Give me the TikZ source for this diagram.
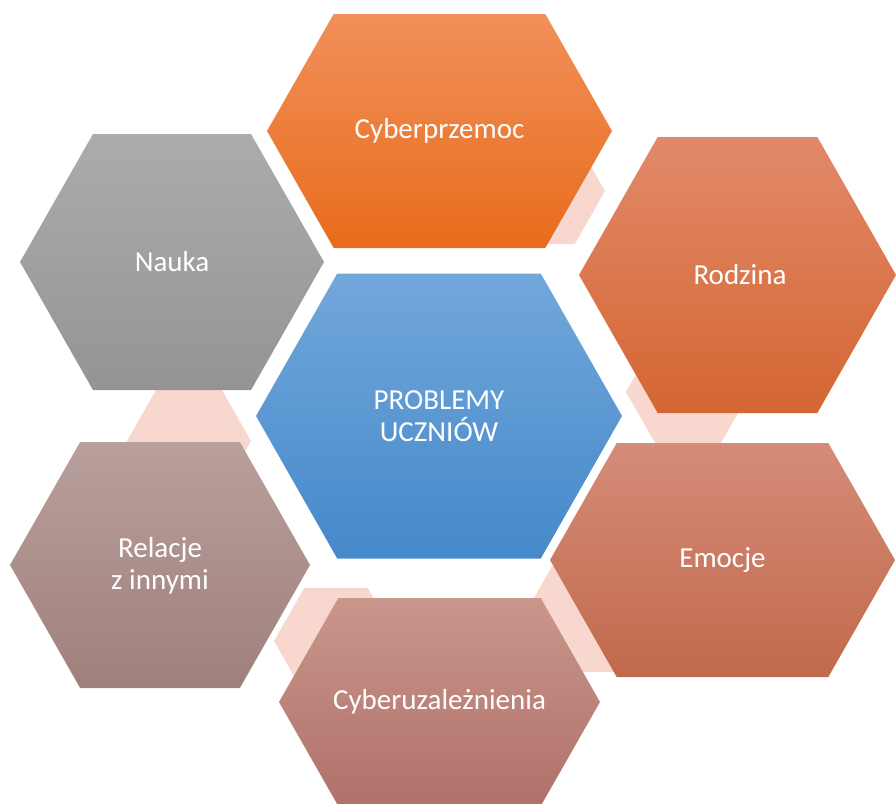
\documentclass[tikz,border=0pt]{standalone}
\usepackage{fontspec}
\setmainfont{Carlito}
\definecolor{linkpink}{HTML}{F8D8CE}
\definecolor{blueT}{HTML}{72A7DB}\definecolor{blueB}{HTML}{4589CA}
\definecolor{cybT}{HTML}{F1905A}\definecolor{cybB}{HTML}{E86C1C}
\definecolor{rodT}{HTML}{E2896A}\definecolor{rodB}{HTML}{D46632}
\definecolor{emoT}{HTML}{D58C79}\definecolor{emoB}{HTML}{C1694B}
\definecolor{uzaT}{HTML}{C9968C}\definecolor{uzaB}{HTML}{B0716A}
\definecolor{relT}{HTML}{B9A09C}\definecolor{relB}{HTML}{9F7F7B}
\definecolor{nauT}{HTML}{ACACAC}\definecolor{nauB}{HTML}{949494}
% #1 style, #2 cx, #3 cy, #4 half width, #5 half height
\newcommand{\hexa}[5]{%
  \path[#1] ({#2-#4},#3) -- ({#2-#4+0.57*#5},{#3-#5}) -- ({#2+#4-0.57*#5},{#3-#5})
    -- ({#2+#4},#3) -- ({#2+#4-0.57*#5},{#3+#5}) -- ({#2-#4+0.57*#5},{#3+#5}) -- cycle;}
\tikzset{
  link/.style={fill=linkpink},
  label/.style={text=white,align=center,font=\fontsize{29}{32}\selectfont}
}

\begin{document}
\begin{tikzpicture}[x=1pt,y=-1pt]
\useasboundingbox (0,0) rectangle (896,803);
% small linking hexagons
\hexa{link}{543}{191}{62}{53}
\hexa{link}{688}{392}{62}{53}
\hexa{link}{584}{619}{62}{53}
\hexa{link}{336}{641}{62}{53}
\hexa{link}{189}{441}{62}{53}
% big hexagons
\hexa{top color=blueT,bottom color=blueB}{439}{416}{183}{142.5}
\hexa{top color=cybT,bottom color=cybB}{439.5}{131}{172.5}{117}
\hexa{top color=rodT,bottom color=rodB}{737.5}{275}{158.5}{138}
\hexa{top color=emoT,bottom color=emoB}{722.5}{560}{172.5}{117}
\hexa{top color=uzaT,bottom color=uzaB}{439.5}{702}{160.5}{104}
\hexa{top color=relT,bottom color=relB}{160}{565}{150}{123}
\hexa{top color=nauT,bottom color=nauB}{172}{262}{152}{128}
% texts
\node[label] (problemy) at (439,416) {PROBLEMY\\UCZNIÓW};
\node[label] (cyberprzemoc) at (439.5,131) {Cyberprzemoc};
\node[label] (rodzina) at (740,275) {Rodzina};
\node[label] (emocje) at (722.5,560) {Emocje};
\node[label] (uzaleznienia) at (439.5,702) {Cyberuzależnienia};
\node[label] (relacje) at (160,566) {Relacje\\z innymi};
\node[label] (nauka) at (172,262) {Nauka};
\end{tikzpicture}
\end{document}
